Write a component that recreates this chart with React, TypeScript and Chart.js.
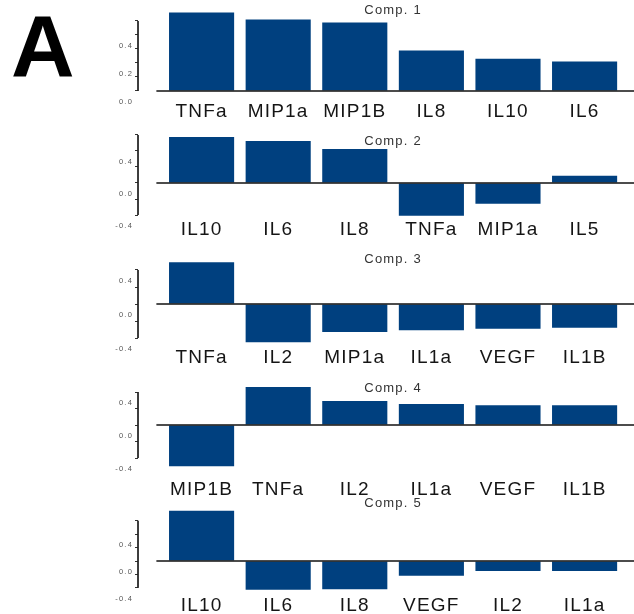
import { useEffect, useRef } from 'react';
import { Chart, registerables } from 'chart.js';

Chart.register(...registerables);

// ---- data ----
const comp1Labels = ['TNFa', 'MIP1a', 'MIP1B', 'IL8', 'IL10', 'IL6'];
const comp1Values = [0.56, 0.51, 0.49, 0.29, 0.23, 0.21];
const comp1YTicks = [0, 0.1, 0.2, 0.3, 0.4, 0.5];
const comp1YLabels = [0, 0.2, 0.4];

const comp2Labels = ['IL10', 'IL6', 'IL8', 'TNFa', 'MIP1a', 'IL5'];
const comp2Values = [0.575, 0.525, 0.425, -0.41, -0.26, 0.09];
const comp2YTicks = [0.6, 0.4, 0.2, 0, -0.2, -0.4];
const comp2YLabels = [0.4, 0, -0.4];

const comp3Labels = ['TNFa', 'IL2', 'MIP1a', 'IL1a', 'VEGF', 'IL1B'];
const comp3Values = [0.49, -0.45, -0.33, -0.31, -0.29, -0.28];
const comp3YTicks = [0.4, 0.2, 0, -0.2, -0.4];
const comp3YLabels = [0.4, 0, -0.4];

const comp4Labels = ['MIP1B', 'TNFa', 'IL2', 'IL1a', 'VEGF', 'IL1B'];
const comp4Values = [-0.5, 0.46, 0.29, 0.255, 0.24, 0.24];
const comp4YTicks = [0.4, 0.2, 0, -0.2, -0.4];
const comp4YLabels = [0.4, 0, -0.4];

const comp5Labels = ['IL10', 'IL6', 'IL8', 'VEGF', 'IL2', 'IL1a'];
const comp5Values = [0.75, -0.43, -0.42, -0.22, -0.15, -0.15];
const comp5YTicks = [0.6, 0.4, 0.2, 0, -0.2, -0.4];
const comp5YLabels = [0.4, 0, -0.4];

const titles = ['Comp. 1', 'Comp. 2', 'Comp. 3', 'Comp. 4', 'Comp. 5'];

// ---- layout / style ----
const FONT = "'Liberation Sans', Arial, Helvetica, sans-serif";
const BAR = '#00407f';
const X_MIN = -0.83;
const X_MAX = 5.645;
const ZERO_START = -0.59;

const panels = [
  { labels: comp1Labels, values: comp1Values, yTicks: comp1YTicks, yLabels: comp1YLabels, min: -0.0643, max: 0.65, top: 0, height: 125, xh: 25 },
  { labels: comp2Labels, values: comp2Values, yTicks: comp2YTicks, yLabels: comp2YLabels, min: -0.4375, max: 0.65, top: 131, height: 112, xh: 25 },
  { labels: comp3Labels, values: comp3Values, yTicks: comp3YTicks, yLabels: comp3YLabels, min: -0.494, max: 0.647, top: 249, height: 122, xh: 25 },
  { labels: comp4Labels, values: comp4Values, yTicks: comp4YTicks, yLabels: comp4YLabels, min: -0.642, max: 0.5697, top: 378, height: 125, xh: 25 },
  { labels: comp5Labels, values: comp5Values, yTicks: comp5YTicks, yLabels: comp5YLabels, min: -0.4925, max: 1.015, top: 493, height: 121, xh: 20 },
];

const spacingPlugin = {
  id: 'spacing',
  beforeDraw(chart: any) {
    (chart.ctx as any).letterSpacing = '1.2px';
  },
};

const titlePlugin = {
  id: 'compTitle',
  afterDraw(chart: any, _args: any, opts: any) {
    const { ctx, chartArea } = chart;
    const x = chart.scales.x;
    ctx.save();
    (ctx as any).letterSpacing = '1.2px';
    ctx.font = `13px ${FONT}`;
    ctx.fillStyle = '#333';
    ctx.textAlign = 'center';
    ctx.textBaseline = 'middle';
    ctx.fillText(opts.text, x.getPixelForValue(2.5), chartArea.top + 10);
    ctx.restore();
  },
};

export default function App() {
  const refs = useRef<(HTMLCanvasElement | null)[]>([]);

  useEffect(() => {
    const charts: Chart[] = [];
    panels.forEach((p, idx) => {
      const canvas = refs.current[idx];
      if (!canvas) return;
      const yTop = Math.max(...p.yTicks);
      const yBot = Math.min(...p.yTicks);
      const chart = new Chart(canvas, {
        type: 'bar',
        data: {
          datasets: [
            {
              type: 'bar',
              data: p.labels.map((_, i) => ({ x: i, y: p.values[i] })),
              backgroundColor: BAR,
              borderWidth: 0,
              barPercentage: 0.85,
              categoryPercentage: 1,
              order: 2,
            } as any,
            {
              type: 'line',
              data: [{ x: ZERO_START, y: 0 }, { x: X_MAX, y: 0 }],
              borderColor: '#111',
              borderWidth: 1.5,
              pointRadius: 0,
              clip: false,
              order: 0,
            } as any,
            {
              type: 'line',
              data: [{ x: X_MIN, y: yTop }, { x: X_MIN, y: yBot }],
              borderColor: '#222',
              borderWidth: 1,
              pointRadius: 0,
              clip: false,
              order: 1,
            } as any,
          ],
        },
        options: {
          animation: false,
          responsive: false,
          events: [],
          layout: { padding: 0 },
          plugins: {
            legend: { display: false },
            tooltip: { enabled: false },
            compTitle: { text: titles[idx] },
          } as any,
          scales: {
            x: {
              type: 'linear',
              min: X_MIN,
              max: X_MAX,
              offset: false,
              grid: { display: false, drawTicks: false },
              border: { display: false },
              afterBuildTicks: (s: any) => {
                s.ticks = p.labels.map((_, i) => ({ value: i }));
              },
              afterFit: (s: any) => {
                s.height = p.xh;
                s.paddingLeft = 0;
                s.paddingRight = 0;
              },
              ticks: {
                autoSkip: false,
                maxRotation: 0,
                minRotation: 0,
                padding: 0,
                color: '#151515',
                font: { family: FONT, size: 19 },
                callback: (v: any) => p.labels[Math.round(Number(v))] ?? '',
              },
            },
            y: {
              type: 'linear',
              min: p.min,
              max: p.max,
              grid: { display: true, drawOnChartArea: false, drawTicks: true, tickLength: 3, color: '#333', lineWidth: 1 },
              border: { display: false },
              afterBuildTicks: (s: any) => {
                s.ticks = p.yTicks.map((v) => ({ value: v }));
              },
              afterFit: (s: any) => {
                s.width = 138;
                s.paddingTop = 0;
                s.paddingBottom = 0;
              },
              ticks: {
                padding: 2,
                labelOffset: 11,
                color: '#555',
                font: { family: FONT, size: 7.5 },
                callback: (v: any) =>
                  p.yLabels.some((l) => Math.abs(l - Number(v)) < 1e-9) ? Number(v).toFixed(1) : '',
              },
            },
          },
        } as any,
        plugins: [spacingPlugin, titlePlugin],
      });
      charts.push(chart);
    });
    return () => charts.forEach((c) => c.destroy());
  }, []);

  return (
    <div style={{ position: 'absolute', left: 0, top: 0, width: 634, height: 614, background: '#fff', overflow: 'hidden' }}>
      <div
        style={{
          position: 'absolute',
          left: 11,
          top: 1.5,
          fontFamily: FONT,
          fontWeight: 'bold',
          fontSize: 88,
          lineHeight: '88px',
          color: '#000',
        }}
      >
        A
      </div>
      {panels.map((p, i) => (
        <canvas
          key={i}
          ref={(el) => {
            refs.current[i] = el;
          }}
          width={634}
          height={p.height}
          style={{ position: 'absolute', left: 0, top: p.top, width: 634, height: p.height }}
        />
      ))}
    </div>
  );
}
